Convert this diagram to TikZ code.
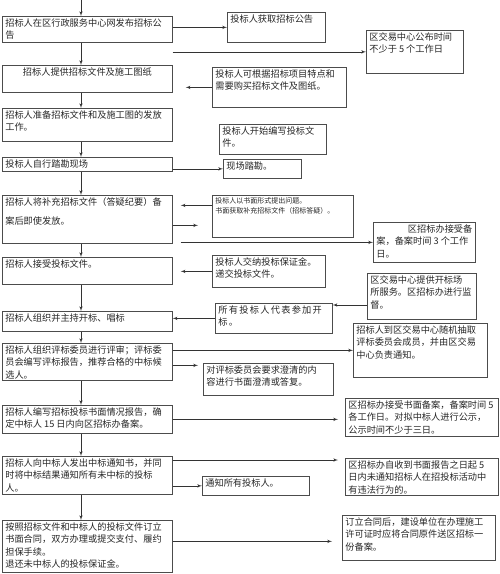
\documentclass[tikz,border=0pt]{standalone}
\usepackage{fontspec}
\usepackage{tikz}
\usetikzlibrary{arrows,positioning}
\newfontfamily\cjk{Noto Sans CJK SC}
\newcommand{\boxtext}[3]{\parbox[c][#2][t]{#1}{#3}}

\begin{document}
\begin{tikzpicture}[x=1pt, y=-1pt, font=\cjk\fontsize{9.2}{12.5}\selectfont]
        \tikzstyle{block} = [rectangle, draw=black!70, line width=0.7pt, anchor=north west, inner xsep=3pt, inner ysep=2pt, text=black!85]
        \tikzstyle{line} = [draw, black!80, line width=0.6pt, -latex']
        \useasboundingbox (0,0) rectangle (500,574);

        % main column
        \node [block] (notice) at (2,16) {\boxtext{164pt}{22pt}{招标人在区行政服务中心网发布招标公\\告}};
        \node [block] (docs) at (2,65) {\boxtext{164pt}{23pt}{\centering 招标人提供招标文件及施工图纸}};
        \node [block] (prep) at (2,108) {\boxtext{164pt}{29pt}{招标人准备招标文件和及施工图的发放\\工作。}};
        \node [block] (survey) at (2,157) {\boxtext{164pt}{10pt}{投标人自行踏勘现场}};
        \node [block] (addendum) at (2,195) {\boxtext{164pt}{44pt}{\fontsize{9.2}{19}\selectfont 招标人将补充招标文件（答疑纪要）备\\案后即使发放。}};
        \node [block] (receive) at (2,257) {\boxtext{164pt}{23pt}{招标人接受投标文件。}};
        \node [block] (opening) at (2,311) {\boxtext{164pt}{16pt}{招标人组织并主持开标、唱标}};
        \node [block] (review) at (2,343) {\boxtext{164pt}{33pt}{招标人组织评标委员进行评审；评标委\\员会编写评标报告，推荐合格的中标候\\选人。}};
        \node [block] (report) at (2,405) {\boxtext{164pt}{24pt}{招标人编写招标投标书面情况报告，确\\定中标人 15 日内向区招标办备案。}};
        \node [block] (award) at (2,456) {\boxtext{164pt}{34pt}{招标人向中标人发出中标通知书，并同\\时将中标结果通知所有未中标的投标\\人。}};
        \node [block] (contract) at (2,520) {\boxtext{164pt}{48pt}{按照招标文件和中标人的投标文件订立\\书面合同，双方办理或提交支付、履约\\担保手续。\\退还未中标人的投标保证金。}};

        % side boxes
        \node [block] (getnotice) at (227,12) {\boxtext{92pt}{26pt}{投标人获取招标公告}};
        \node [block] (publish) at (366,30) {\boxtext{91pt}{39pt}{区交易中心公布时间\\不少于 5 个工作日}};
        \node [block] (buydocs) at (212,67) {\boxtext{128pt}{36pt}{投标人可根据招标项目特点和\\需要购买招标文件及图纸。}};
        \node [block] (writebid) at (219,124) {\boxtext{101pt}{26pt}{投标人开始编写投标文\\件。}};
        \node [block] (site) at (223,159) {\boxtext{72pt}{15pt}{现场踏勘。}};
        \node [block] (questions) at (212,195) {\boxtext{135pt}{38pt}{\fontsize{7}{10}\selectfont 投标人以书面形式提出问题。\\书面获取补充招标文件（招标答疑）。}};
        \node [block] (filing) at (373,222) {\boxtext{96pt}{36pt}{\hfill 区招标办接受备\\案，备案时间 3 个工作\\日。}};
        \node [block] (deposit) at (212,255) {\boxtext{107pt}{28pt}{投标人交纳投标保证金。\\递交投标文件。}};
        \node [block] (venue) at (367,273) {\boxtext{103pt}{42pt}{区交易中心提供开标场\\所服务。区招标办进行监\\督。}};
        \node [block] (attend) at (215,303) {\boxtext{111pt}{26pt}{\addfontfeatures{LetterSpace=14}所有投标人代表参加开\\标。}};
        \node [block] (experts) at (353,323) {\boxtext{128pt}{50pt}{招标人到区交易中心随机抽取\\评标委员会成员，并由区交易\\中心负责通知。}};
        \node [block] (clarify) at (203,363) {\boxtext{124pt}{28pt}{对评标委员会要求澄清的内\\容进行书面澄清或答复。}};
        \node [block] (publicity) at (345,398) {\boxtext{147pt}{34pt}{区招标办接受书面备案，备案时间 5\\各工作日。对拟中标人进行公示，\\公示时间不少于三日。}};
        \node [block] (objection) at (345,458) {\boxtext{147pt}{33pt}{区招标办自收到书面报告之日起 5\\日内未通知招标人在招投标活动中\\有违法行为的。}};
        \node [block] (notifyall) at (202,476) {\boxtext{101pt}{15pt}{通知所有投标人。}};
        \node [block] (archive) at (342,515) {\boxtext{147pt}{41pt}{订立合同后，建设单位在办理施工\\许可证时应将合同原件送区招标一\\份备案。}};

        % main flow
        \coordinate (top) at (81,0);
        \path [line] (top) -- (notice.north -| top);
        \foreach \a/\b in {notice/docs, docs/prep, prep/survey, survey/addendum, addendum/receive, receive/opening, opening/review, review/report, report/award, award/contract}
            \path [line] (\a.south -| top) -- (\b.north -| top);

        % side connectors
        \coordinate (docsin) at ([xshift=13pt]docs.east);
        \coordinate (q1) at ([yshift=11pt]questions.west);
        \coordinate (q2) at ([xshift=-14pt]questions.west);
        \coordinate (e1) at ([xshift=8pt]addendum.east);
        \coordinate (e2) at ([yshift=-6pt]addendum.east);
        \coordinate (f1) at ([xshift=8pt]receive.east);
        \coordinate (t1) at ([yshift=-2pt]attend.north east);
        \coordinate (h1) at ([yshift=-3.5pt]review.east);
        \coordinate (c1) at ([xshift=-5pt]clarify.west);
        \coordinate (p1) at ([xshift=-7pt]publicity.west);
        \coordinate (j1) at ([yshift=-4pt]award.north east);
        \coordinate (o1) at ([xshift=-7pt]objection.west);
        \coordinate (k1) at ([yshift=5pt]contract.east);
        \coordinate (a1) at ([xshift=-10pt]archive.west);

        \path [line] (notice.east |- getnotice.west) -- (getnotice.west);
        \path [line] (notice.south east |- publish.west) -- (publish.west);
        \path [line] (buydocs.west) -- (docsin |- buydocs.west);
        \path [line] (site.west -| survey.east) -- (site.west);
        \path [line] (q1) -- (e1 |- q1);
        \path [line] (e2) -- (e2 -| q2);
        \path [line] (e1 |- filing.west) -- (filing.west);
        \path [line] (deposit.west) -- (f1 |- deposit.west);
        \path [line] (t1 -| venue.west) -- (t1);
        \path [line] (attend.west) -- (attend.west -| opening.east);
        \path [line] (experts.west -| review.east) -- (experts.west);
        \path [line] (h1) -- (h1 -| c1);
        \path [line] (report.east) -- (report.east -| p1);
        \path [line] (j1) -- (j1 -| o1);
        \path [line] (notifyall.west -| award.east) -- (notifyall.west);
        \path [line] (k1) -- (k1 -| a1);
\end{tikzpicture}
\end{document}
